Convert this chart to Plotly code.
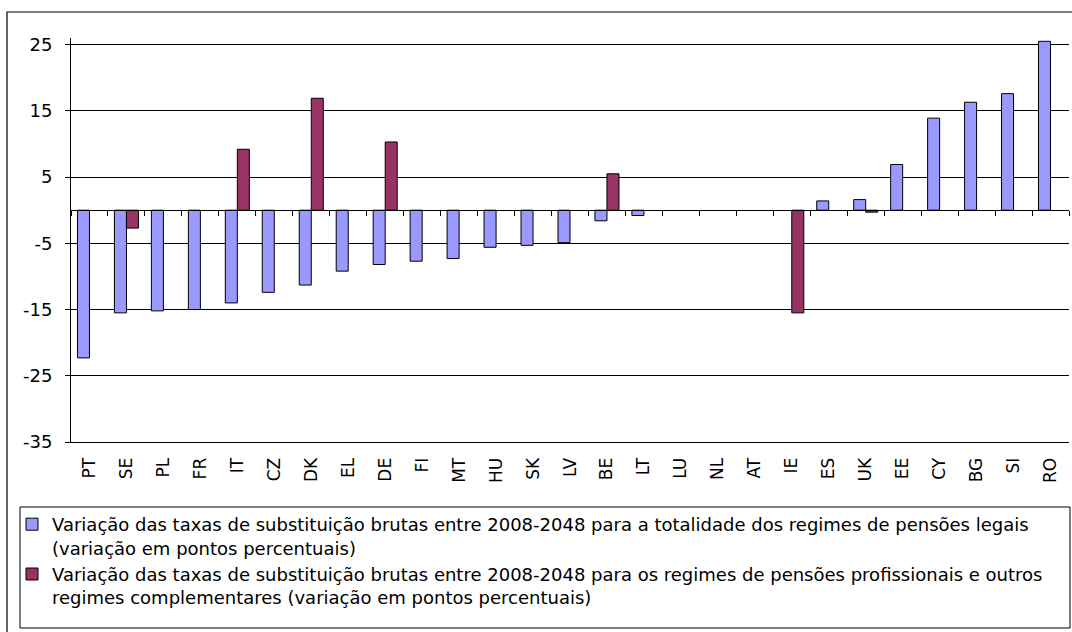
import plotly.graph_objects as go

countries = ["PT", "SE", "PL", "FR", "IT", "CZ", "DK", "EL", "DE", "FI", "MT", "HU", "SK", "LV",
             "BE", "LT", "LU", "NL", "AT", "IE", "ES", "UK", "EE", "CY", "BG", "SI", "RO"]
legal = [-22.3, -15.5, -15.2, -15.0, -14.0, -12.4, -11.3, -9.2, -8.2, -7.7, -7.3, -5.6, -5.3, -4.9,
         -1.6, -0.8, None, None, None, None, 1.4, 1.6, 6.9, 13.9, 16.3, 17.6, 25.5]
occupational = [None, -2.7, None, None, 9.2, None, 16.9, None, 10.3, None, None, None, None, None,
                5.5, None, None, None, None, -15.5, None, -0.3, None, None, None, None, None]
y_ticks = [-35, -25, -15, -5, 5, 15, 25]
y_tick_labels = ["-35", "-25", "-15", "-5", "5", "15", "25"]

name_legal = ("Variação das taxas de substituição brutas entre 2008-2048 para a totalidade dos regimes de pensões legais"
              "<br>(variação em pontos percentuais)")
name_occ = ("Variação das taxas de substituição brutas entre 2008-2048 para os regimes de pensões profissionais e outros"
            "<br>regimes complementares (variação em pontos percentuais)")

W, H = 1072, 632
ML, MR, MT, MB = 71, 3, 38, 190
PW, PH = W - ML - MR, H - MT - MB
Y_RANGE = [-35, 26]


def px_x(px):
    return (px - ML) / PW


def px_y(py):
    return (H - MB - py) / PH


FONT = "DejaVu Sans, Liberation Sans, Arial, sans-serif"

fig = go.Figure()
fig.add_trace(go.Bar(x=countries, y=legal, name=name_legal,
                     marker=dict(color="#9999FF", line=dict(color="black", width=1))))
fig.add_trace(go.Bar(x=countries, y=occupational, name=name_occ,
                     marker=dict(color="#993366", line=dict(color="black", width=1))))
# invisible helper trace so the label axis knows the categories
fig.add_trace(go.Scatter(x=countries, y=[0] * len(countries), xaxis="x2", mode="markers",
                         marker=dict(opacity=0), showlegend=False, hoverinfo="skip"))

zero_pos = (0 - Y_RANGE[0]) / (Y_RANGE[1] - Y_RANGE[0])

fig.update_layout(
    width=W, height=H,
    margin=dict(l=ML, r=MR, t=MT, b=MB),
    paper_bgcolor="white", plot_bgcolor="white",
    barmode="group", bargap=0.35, bargroupgap=0,
    font=dict(family=FONT, color="black", size=18),
    xaxis=dict(type="category", anchor="free", position=zero_pos, range=[-0.5, len(countries) - 0.5],
               showline=True, linecolor="black", linewidth=1, ticks="outside", ticklen=5,
               tickcolor="black", tickson="boundaries", showticklabels=False, showgrid=False,
               zeroline=False),
    xaxis2=dict(type="category", overlaying="x", anchor="y", side="bottom",
                range=[-0.5, len(countries) - 0.5], showline=True, linecolor="black",
                ticks="", tickangle=-90, tickfont=dict(size=17, family=FONT),
                ticklabelstandoff=8, showgrid=False, zeroline=False),
    yaxis=dict(range=Y_RANGE, tickvals=y_ticks, ticktext=y_tick_labels, showgrid=True,
               gridcolor="black", gridwidth=1, showline=True, linecolor="black", linewidth=1,
               ticks="outside", ticklen=5, tickcolor="black", zeroline=False,
               ticklabelstandoff=9, tickfont=dict(size=18, family=FONT)),
    legend=dict(x=px_x(12), y=px_y(506), xanchor="left", yanchor="top", valign="top",
                bgcolor="rgba(0,0,0,0)", borderwidth=0, font=dict(size=18, family=FONT),
                tracegroupgap=0),
    shapes=[
        dict(type="rect", xref="paper", yref="paper", x0=px_x(7), x1=px_x(1080),
             y0=px_y(12), y1=px_y(640), line=dict(color="black", width=1.2), layer="below"),
        dict(type="rect", xref="paper", yref="paper", x0=px_x(20), x1=px_x(1070),
             y0=px_y(507), y1=px_y(628), line=dict(color="black", width=1), layer="below"),
    ],
)

fig.write_html("out.html")
